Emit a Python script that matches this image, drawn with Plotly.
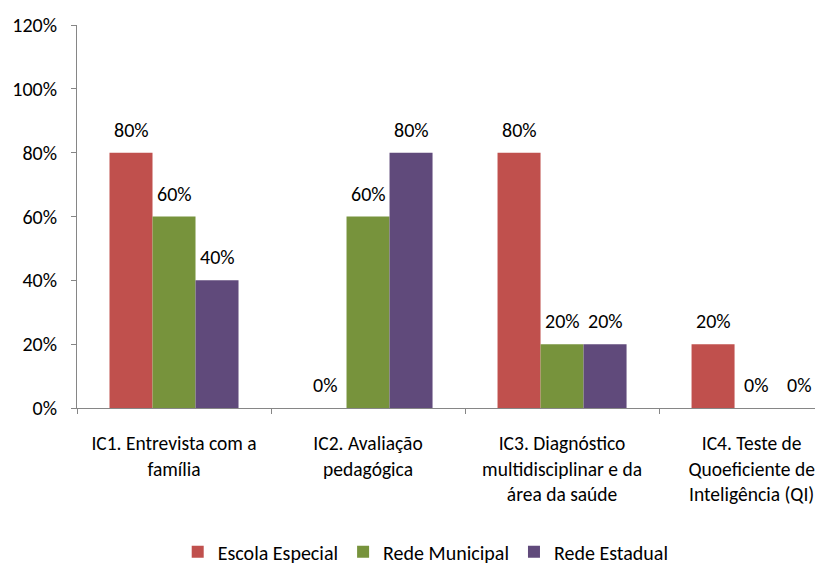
import plotly.graph_objects as go

categories = ["IC1", "IC2", "IC3", "IC4"]
tick_labels = ["IC1. Entrevista com a<br>família",
               "IC2. Avaliação<br>pedagógica",
               "IC3. Diagnóstico<br>multidisciplinar e da<br>área da saúde",
               "IC4. Teste de\u00a0\u00a0<br>Quoeficiente de\u00a0\u00a0<br>Inteligência (QI)\u00a0\u00a0"]
series_names = ["Escola Especial", "Rede Municipal", "Rede Estadual"]
escola_especial = [0.80, 0.0, 0.80, 0.20]
rede_municipal = [0.60, 0.60, 0.20, 0.0]
rede_estadual = [0.40, 0.80, 0.20, 0.0]
colors = ["#C0504D", "#77933C", "#604A7B"]
y_ticks = [0, 0.2, 0.4, 0.6, 0.8, 1.0, 1.2]

FONT = "Carlito, Calibri, Lato, sans-serif"
FS = 20
series = [escola_especial, rede_municipal, rede_estadual]
bargap = 0.335
w = (1 - bargap) / 3

fig = go.Figure()
for name, vals, col in zip(series_names, series, colors):
    fig.add_trace(go.Bar(x=categories, y=vals, name=name, marker_color=col,
                         marker_line_width=0))

annotations = []
for j, vals in enumerate(series):
    for i, v in enumerate(vals):
        annotations.append(dict(x=i + (j - 1) * w, y=v, xref="x", yref="y",
                                text=f"{round(v*100)}%", showarrow=False,
                                yanchor="bottom", yshift=9,
                                font=dict(family=FONT, size=FS, color="#000")))

fig.update_layout(
    width=815, height=559,
    margin=dict(l=69, r=0, t=17, b=159, autoexpand=False),
    paper_bgcolor="white", plot_bgcolor="white",
    barmode="group", bargap=bargap, bargroupgap=0,
    font=dict(family=FONT, size=FS, color="#000"),
    annotations=annotations,
    showlegend=True,
    legend=dict(orientation="h", x=0.135, xanchor="left",
                yref="container", y=0.062, yanchor="top",
                font=dict(family=FONT, size=FS, color="#000"),
                itemwidth=30, traceorder="normal"),
)
fig.update_xaxes(type="category", range=[-0.5, 3.345], showline=True,
                 tickmode="array", tickvals=categories, ticktext=tick_labels,
                 linecolor="#868686", linewidth=1, ticks="outside", ticklen=5,
                 tickcolor="#868686", tickson="boundaries", showgrid=False,
                 automargin=False,
                 ticklabelstandoff=18, tickfont=dict(family=FONT, size=19.5, color="#000"))
fig.update_yaxes(range=[0, 1.2], tickvals=y_ticks, tickformat=".0%", showline=True,
                 linecolor="#868686", linewidth=1, ticks="outside", ticklen=5,
                 tickcolor="#868686", showgrid=False, zeroline=False,
                 automargin=False,
                 ticklabelstandoff=10, tickfont=dict(family=FONT, size=FS, color="#000"))

fig.write_html("out.html")
